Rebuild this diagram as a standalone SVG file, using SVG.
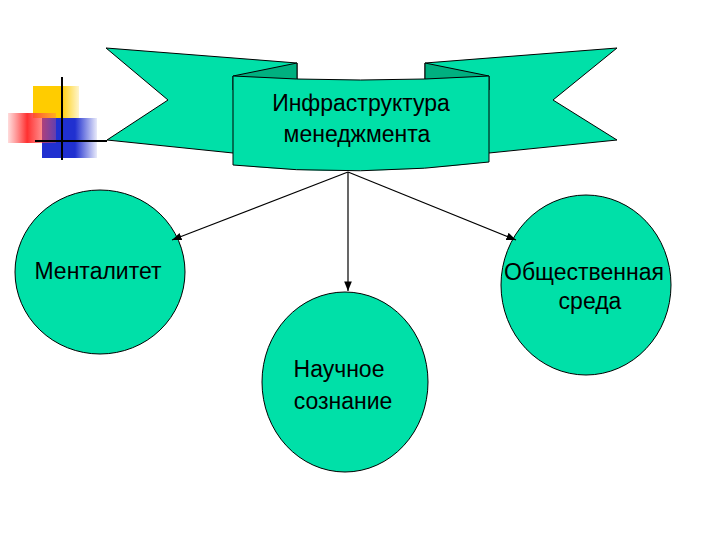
<svg xmlns="http://www.w3.org/2000/svg" width="720" height="540" viewBox="0 0 720 540">
<style>
.f{fill:#00e0a8;stroke:#000;stroke-width:1}
.d{fill:#00b080;stroke:#000;stroke-width:1}
text{font-family:"Liberation Sans",Arial,sans-serif;font-size:23px;fill:#000;text-anchor:middle}
</style>
<defs>
<marker id="a" viewBox="0 0 10 10" refX="10" refY="5" markerWidth="8" markerHeight="8" orient="auto"><path d="M0,1 L10,5 L0,9 Z" fill="#000"/></marker>
<linearGradient id="r" x1="0" x2="1"><stop offset="0" stop-color="#ff5050" stop-opacity="0.2"/><stop offset="0.4" stop-color="#ff3030"/><stop offset="1" stop-color="#ff6060" stop-opacity="0.3"/></linearGradient>
<linearGradient id="b" x1="0" x2="1"><stop offset="0.6" stop-color="#2030d0"/><stop offset="1" stop-color="#2030d0" stop-opacity="0.1"/></linearGradient>
<linearGradient id="y" x1="0" x2="1"><stop offset="0.6" stop-color="#ffcc00"/><stop offset="1" stop-color="#ffcc00" stop-opacity="0.2"/></linearGradient>
</defs>
<g id="deco">
<rect x="33" y="86" width="46" height="32" fill="url(#y)"/>
<rect x="42" y="118" width="55" height="40" fill="url(#b)"/>
<rect x="8" y="113" width="48" height="30" fill="url(#r)"/>
<line x1="62" y1="77" x2="62" y2="160" stroke="#000" stroke-width="2"/>
<line x1="35" y1="141" x2="107" y2="141" stroke="#000" stroke-width="2"/>
</g>
<g id="banner">
<path class="f" d="M106,48 L297,63 L297,140 L233,153 L107,140 L168,100 Z"/>
<path class="f" d="M617,48 L425,63 L425,140 L489,153 L617,140 L553,100 Z"/>
<path class="d" d="M233,76 L297,63 L297,90 L233,90 Z"/>
<path class="d" d="M489,76 L425,63 L425,90 L489,90 Z"/>
<path class="f" d="M233,76 Q360,84 489,76 L489,162 Q360,178 233,165 Z"/>
<text x="361" y="111">Инфраструктура</text>
<text x="357" y="142">менеджмента</text>
</g>
<g id="n1"><ellipse class="f" cx="100" cy="272" rx="85" ry="82"/><text x="98" y="279">Менталитет</text></g>
<g id="n2"><ellipse class="f" cx="345" cy="382" rx="83" ry="90"/><text x="339" y="377">Научное</text><text x="343" y="409">сознание</text></g>
<g id="n3"><ellipse class="f" cx="586" cy="285" rx="85" ry="90"/><text x="584" y="280">Общественная</text><text x="590" y="309">среда</text></g>
<g id="connectors" stroke="#000" stroke-width="1.2" fill="none">
<line x1="348" y1="172" x2="172" y2="240" marker-end="url(#a)"/>
<line x1="348" y1="172" x2="348" y2="291" marker-end="url(#a)"/>
<line x1="348" y1="172" x2="516" y2="240" marker-end="url(#a)"/>
</g>
</svg>
